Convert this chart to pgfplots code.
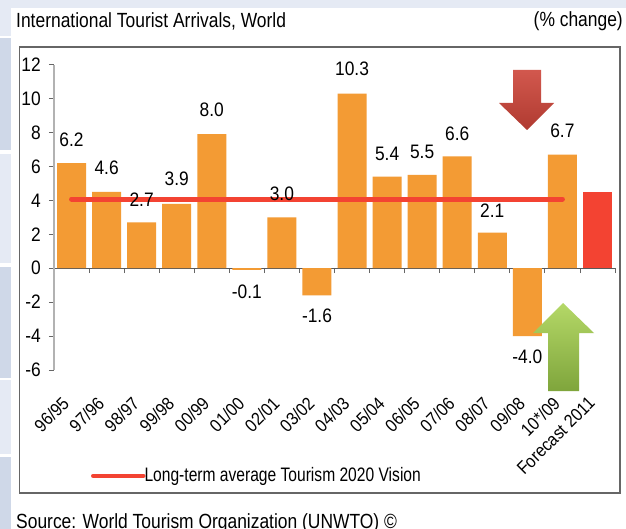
\documentclass[border=0pt]{standalone}
\usepackage{pgfplots}
\pgfplotsset{compat=1.18}
\usepackage{pgfplotstable}
\usepackage{fontspec}
\setmainfont[FakeStretch=0.89]{Liberation Sans}
\newfontfamily\legfont[FakeStretch=0.80]{Liberation Sans}
\newfontfamily\ttlfont[FakeStretch=0.85]{Liberation Sans}
\definecolor{barorange}{HTML}{F39B34}
\definecolor{barred}{HTML}{F34332}
\definecolor{panelA}{HTML}{E5EAF4}
\definecolor{panelB}{HTML}{CFD8E8}
\definecolor{arrowredtop}{HTML}{D2584E}
\definecolor{arrowredbot}{HTML}{B03A30}
\definecolor{arrowgreentop}{HTML}{B4D867}
\definecolor{arrowgreenbot}{HTML}{7FA53C}
\pgfplotstableread{
x y
0 6.2
1 4.5
2 2.7
3 3.8
4 7.9
5 -0.1
6 3.0
7 -1.6
8 10.3
9 5.4
10 5.5
11 6.6
12 2.1
13 -4.0
14 6.7
}\bars
\pgfplotstableread{
x y
15 4.5
}\forecast
\pgfplotstableread{
x y label
0 7.55 6.2
1 5.92 4.6
2 4.07 2.7
3 5.25 3.9
4 9.32 8.0
5 -1.40 -0.1
6 4.36 3.0
7 -2.83 -1.6
8 11.73 10.3
9 6.72 5.4
10 6.84 5.5
11 7.90 6.6
12 3.42 2.1
13 -5.24 -4.0
14 8.08 6.7
}\labels
\begin{document}
\fontsize{19.5}{22}\selectfont
\begin{tikzpicture}[x=1pt,y=1pt]
\clip (0,0) rectangle (626,-529);
\fill[white] (0,0) rectangle (626,-529);
\fill[panelA] (0,0) rectangle (626,-8);
\fill[panelA] (0,0) rectangle (11,-36);
\fill[panelB] (0,-38) rectangle (11,-150);
\fill[panelA] (0,-154) rectangle (11,-263);
\fill[panelB] (0,-267) rectangle (11,-378);
\fill[panelA] (0,-380) rectangle (11,-454);
\fill[panelB] (0,-457) rectangle (11,-529);
\draw[black!60,line width=1.2pt] (19.5,-47) rectangle (620,-493);
\node[anchor=west,inner sep=0,font=\ttlfont\fontsize{20.5}{22}\selectfont] at (16,-21) {International Tourist Arrivals, World};
\node[anchor=east,inner sep=0,font=\ttlfont\fontsize{20.5}{22}\selectfont] at (623,-21) {(\% change)};
\node[anchor=west,inner sep=0,font=\ttlfont\fontsize{20.5}{22}\selectfont] at (16,-523) {Source: World Tourism Organization (UNWTO) ©};
\begin{axis}[
  at={(54pt,-370pt)},anchor=south west,
  scale only axis,width=561pt,height=305.3pt,
  xmin=-0.5,xmax=15.5,ymin=-6,ymax=12,
  axis x line=middle,axis y line=left,
  x axis line style={-,black!65,line width=1pt},
  y axis line style={-,black!30,line width=1.2pt},
  clip=false,
  ytick={-6,-4,...,12},
  xtick={0,...,15},
  xticklabels={96/95,97/96,98/97,99/98,00/99,01/00,02/01,03/02,04/03,05/04,06/05,07/06,08/07,09/08,10*/09,Forecast 2011},
  minor xtick={-0.5,0.5,...,15.5},
  major x tick style={draw=none},
  minor x tick style={black!60,line width=0.8pt},
  y tick style={black!60,line width=0.8pt},
  tick align=outside,
  minor tick length=5pt,major tick length=5pt,
  /pgf/number format/assume math mode=true,
  yticklabel style={inner sep=0pt,xshift=-8pt,font=\fontsize{19.5}{22}\selectfont},
  xticklabel style={xshift=-10.5pt,yshift=-122pt,rotate=45,anchor=north east,inner sep=0pt,font=\fontsize{18}{20}\selectfont},
  legend style={at={(0.066,-0.347)},anchor=west,draw=none,fill=none,inner sep=0pt,outer sep=0pt,
    /tikz/every even column/.append style={column sep=2pt}},
  legend image code/.code={\draw[barred,line width=4.5pt,line cap=round] (0pt,0pt) -- (50pt,0pt);},
  legend cell align=left,
]
\addplot[ybar,bar width=29pt,fill=barorange,draw=none,forget plot] table[x=x,y=y]{\bars};
\addplot[ybar,bar width=29pt,fill=barred,draw=none,forget plot] table[x=x,y=y]{\forecast};
\addplot[barred,line width=5pt,line cap=round] coordinates {(0,4.08) (14,4.08)};
\addlegendentry{\hspace{-3pt}\legfont Long-term average Tourism 2020 Vision}
\addplot[draw=none,mark=none,forget plot,point meta=explicit symbolic,
  nodes near coords,
  every node near coord/.append style={anchor=center,inner sep=0pt,text=black,font=\fontsize{19.5}{22}\selectfont}]
  table[x=x,y=y,meta=label]{\labels};
\end{axis}
\shade[top color=arrowredtop,bottom color=arrowredbot]
  (513,-70) -- (541,-70) -- (541,-103) -- (554,-103) -- (527,-130) -- (499,-103) -- (513,-103) -- cycle;
\shade[top color=arrowgreentop,bottom color=arrowgreenbot]
  (563,-303) -- (594,-333) -- (579,-333) -- (579,-391) -- (548,-391) -- (548,-333) -- (533,-333) -- cycle;
\end{tikzpicture}
\end{document}
